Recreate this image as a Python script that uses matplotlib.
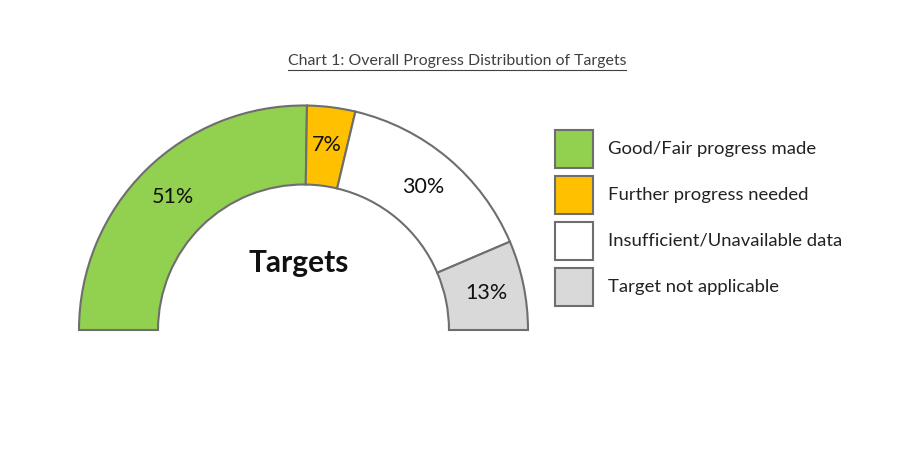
import matplotlib.pyplot as plt
plt.switch_backend('agg')
from matplotlib.lines import Line2D
from matplotlib.patches import Rectangle

categories = ['Good/Fair progress made', 'Further progress needed',
              'Insufficient/Unavailable data', 'Target not applicable']
values = [51, 7, 30, 13]
colors = ['#92d050', '#ffc000', '#ffffff', '#d9d9d9']

plt.rcParams['font.family'] = ['Lato', 'DejaVu Sans']

W, H = 910, 450
fig = plt.figure(figsize=(W / 100, H / 100), dpi=100)

# gauge: center at (303.5, 330) px, outer radius 224.5 px
cx, cy, r_px = 303.5, 330, 224.5
half = 250
ax = fig.add_axes([(cx - half) / W, (H - cy - half) / H, 2 * half / W, 2 * half / H])

edge = '#6e6e6e'
wedges, texts, autotexts = ax.pie(
    values + [sum(values)],
    colors=colors + ['none'],
    startangle=180, counterclock=False,
    radius=1, pctdistance=0.83,
    autopct='%1.0f',
    wedgeprops=dict(width=0.352, edgecolor=edge, linewidth=1.5),
    textprops=dict(fontsize=15.5, color='#111111'),
)
wedges[-1].set_edgecolor('none')
for t, v in zip(autotexts, values + [None]):
    t.set_text('' if v is None else f'{v}%')
    t.set_va('center')
    t.set_ha('center')

lim = half / r_px
ax.set_xlim(-lim, lim)
ax.set_ylim(-lim, lim)
ax.set_aspect('equal')
ax.axis('off')

ax.text(-0.02, 0.3, 'Targets', ha='center', va='center',
        fontsize=21.5, fontweight='bold', color='#111111')

# legend drawn by hand in pixel positions
box, step = 38, 46
x0, y0 = 555, 130
for i, (lab, col) in enumerate(zip(categories, colors)):
    top = y0 + i * step
    fig.add_artist(Rectangle((x0 / W, 1 - (top + box) / H), box / W, box / H,
                             facecolor=col, edgecolor=edge, linewidth=1.5,
                             transform=fig.transFigure))
    fig.text(608 / W, 1 - (top + box / 2) / H, lab, ha='left', va='center',
             fontsize=13.3, color='#222222')

title = fig.text(457 / W, 1 - 61 / H,
                 'Chart 1: Overall Progress Distribution of Targets',
                 ha='center', va='center', fontsize=11.4, color='#404040')
fig.canvas.draw()
bb = title.get_window_extent()
y_ul = (bb.y0 - 1.5) / H
fig.add_artist(Line2D([bb.x0 / W, bb.x1 / W], [y_ul, y_ul],
                      color='#404040', linewidth=0.8))

fig.savefig('out.png', dpi=100)
